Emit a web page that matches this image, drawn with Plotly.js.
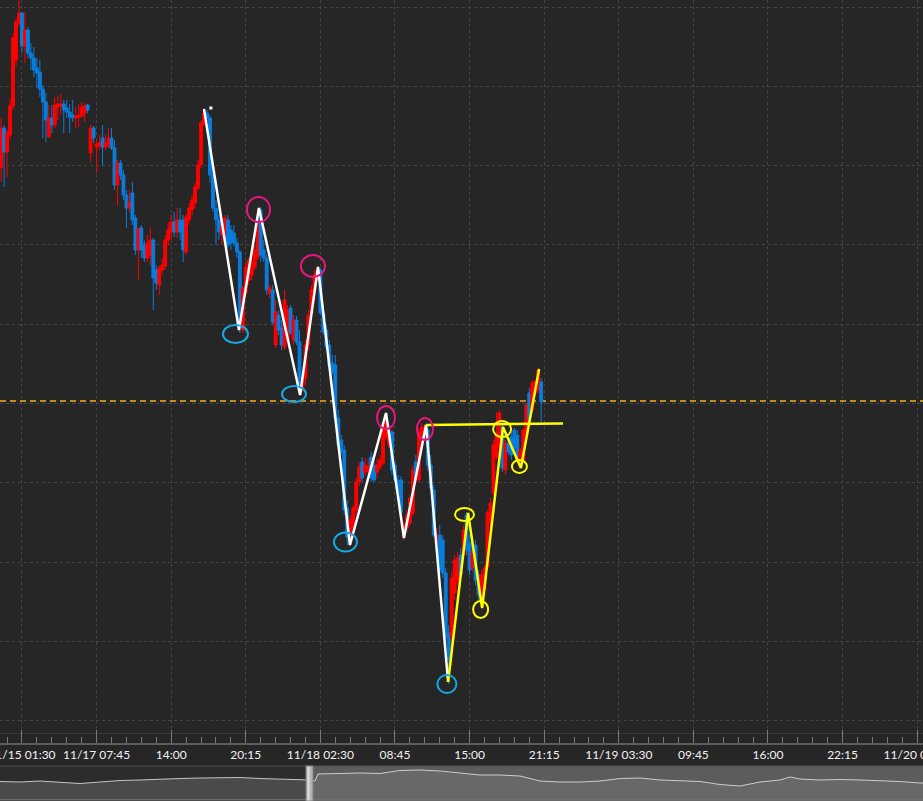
<!DOCTYPE html>
<html><head><meta charset="utf-8">
<script src="https://cdn.plot.ly/plotly-3.0.1.min.js"></script>
<style>html,body{margin:0;padding:0;background:#262626;overflow:hidden}#chart{width:923px;height:801px}</style>
</head><body><div id="chart"></div>
<script>
// ---- candle data (15-minute bars, arbitrary price units) ----
const openP = [163.2,167.2,164.8,166.5,169.4,174.0,177.7,178.7,175.4,177.0,
174.7,174.2,173.2,172.8,171.1,169.8,166.3,168.2,167.5,169.3,
169.4,169.6,169.2,168.8,168.5,168.2,168.3,168.4,168.7,169.5,
164.7,167.2,165.3,165.4,166.2,165.3,165.5,166.2,165.2,161.5,
163.7,162.5,160.5,159.2,160.7,158.2,155.0,157.2,155.5,154.2,
154.5,156.0,153.0,151.5,153.0,153.4,156.0,156.8,157.8,156.8,
158.0,158.0,154.8,158.0,159.0,159.7,161.2,163.5,167.6,168.7,
168.2,162.5,159.2,158.0,156.5,156.2,158.0,157.0,156.7,155.7,
154.8,147.0,150.7,152.0,152.5,153.3,154.3,159.0,155.0,154.2,
150.7,151.0,145.5,148.5,147.2,145.3,146.0,149.2,146.0,148.0,
145.8,141.2,142.2,145.5,148.7,150.8,152.2,153.0,148.7,147.0,
145.5,143.7,143.5,138.2,136.0,135.0,129.2,126.3,127.2,129.0,
131.8,133.8,132.8,132.8,134.3,133.5,132.8,133.3,133.7,136.3,
135.5,136.8,133.5,132.0,132.0,126.3,127.2,127.7,128.7,133.8,
132.0,136.3,137.0,137.0,133.5,131.0,125.8,126.5,126.0,122.7,
116.7,116.3,120.7,122.0,124.5,124.5,128.5,125.7,123.2,125.5,
122.5,120.7,121.0,123.3,127.7,130.7,134.3,135.3,137.3,133.0,
135.7,136.3,137.0,136.5,133.5,134.0,136.3,140.7,139.0,140.7,
141.0,141.8];
const highP = [168.2,167.5,167.0,170.1,176.7,178.2,180.0,178.8,178.8,177.3,
175.7,175.3,174.2,174.0,171.5,170.7,169.5,169.5,170.3,170.4,
170.6,170.0,170.0,169.6,170.0,169.3,169.6,169.8,169.7,169.6,
167.5,167.4,166.0,166.5,167.5,166.5,167.2,167.2,166.0,164.0,
164.0,163.0,161.0,161.0,161.8,158.5,157.2,157.5,156.0,156.5,
157.2,156.2,153.5,153.4,154.2,156.5,157.8,158.5,158.8,159.2,
159.2,158.5,158.6,159.7,160.5,161.7,164.0,168.0,169.2,169.0,
168.5,163.5,160.0,158.5,157.8,158.5,158.5,157.5,157.5,156.2,
155.0,151.5,153.8,154.2,154.5,155.5,159.2,159.3,156.0,154.5,
151.5,151.5,150.0,149.0,148.0,151.0,149.5,149.5,148.5,148.4,
147.0,142.4,146.0,149.0,151.5,153.0,153.4,153.2,149.5,147.5,
146.0,144.5,144.5,139.0,136.5,135.5,130.0,128.5,129.5,132.2,
133.8,134.3,134.2,134.2,134.8,134.0,134.2,134.5,137.5,138.7,
137.5,137.0,134.0,132.5,132.4,127.8,129.0,130.5,133.5,134.5,
137.2,137.7,137.6,137.4,134.5,131.5,127.2,127.5,126.5,123.2,
117.5,122.8,124.5,124.8,125.2,127.5,128.8,126.5,125.2,126.0,
123.0,123.0,123.5,129.0,130.2,136.0,138.8,139.0,137.5,136.0,
136.2,136.8,137.2,137.0,135.2,137.2,139.7,141.2,142.0,142.0,
143.2,142.2];
const lowP = [161.8,161.3,162.3,166.0,169.0,173.4,177.4,174.7,173.7,174.2,
173.0,172.3,171.2,170.3,166.2,165.8,166.2,166.7,167.2,168.0,
168.5,166.7,168.2,166.7,167.8,167.2,167.3,168.2,167.8,168.7,
163.8,165.7,162.7,165.0,163.4,165.0,165.2,165.0,161.0,159.5,
162.0,160.0,157.2,158.8,157.5,154.5,152.0,154.2,153.8,153.8,
153.5,149.0,151.0,150.5,152.5,153.0,155.5,156.0,156.3,156.2,
156.0,153.8,154.5,157.5,158.5,159.2,161.0,163.2,167.4,167.8,
161.7,158.8,155.5,156.0,155.5,155.8,155.2,155.0,155.4,154.2,
146.7,146.7,150.4,151.5,152.0,153.0,154.0,153.8,153.8,150.5,
150.2,147.5,145.2,146.5,145.0,145.0,145.8,146.5,145.5,145.5,
140.5,140.8,141.5,145.0,148.2,150.0,151.8,148.5,146.5,145.0,
143.0,142.5,138.0,135.2,134.5,128.5,125.5,125.4,126.8,128.5,
131.4,131.8,132.4,132.2,131.8,131.8,132.2,133.0,133.5,136.0,
135.2,132.5,131.8,130.8,128.5,126.0,126.8,127.4,128.4,131.8,
131.7,136.0,136.5,133.0,131.0,126.3,125.5,122.5,122.2,115.5,
111.6,113.5,120.0,121.5,122.0,124.0,124.5,122.5,122.8,121.5,
120.0,119.2,120.5,123.0,127.4,130.4,134.0,135.0,132.8,132.5,
134.5,134.0,134.8,133.8,133.2,133.8,136.0,137.8,138.7,140.4,
140.7,137.8];
const closeP = [167.2,164.8,166.7,169.4,176.2,177.8,178.7,175.4,177.0,174.7,
174.2,173.0,172.7,171.1,169.8,168.0,168.2,167.5,169.5,169.6,
169.6,169.0,168.8,168.3,168.2,168.4,168.5,169.3,169.4,169.0,
167.2,166.2,165.6,165.7,165.3,165.7,166.2,165.2,161.5,163.7,
162.5,160.5,159.2,159.8,158.0,155.0,157.2,155.0,154.2,155.7,
156.0,152.2,151.7,153.2,153.5,156.0,157.0,157.8,156.8,158.0,
156.8,155.0,158.3,159.2,160.0,161.3,163.5,167.7,168.7,168.2,
162.5,159.2,158.0,156.8,157.4,158.2,155.5,155.7,155.7,154.8,
147.5,151.2,153.3,154.0,153.8,155.0,158.2,154.5,154.2,151.0,
151.2,147.8,148.8,147.0,145.5,150.0,149.0,146.7,148.0,145.8,
141.7,142.2,145.5,148.5,151.0,152.5,153.0,148.7,146.8,145.3,
143.4,142.8,138.2,135.5,134.8,129.0,126.3,128.0,129.2,131.8,
133.3,132.2,133.5,133.4,132.2,132.0,133.5,134.0,137.2,138.2,
137.0,133.0,132.0,131.0,128.8,127.5,128.5,130.2,133.0,132.2,
136.8,137.3,137.3,133.5,131.2,126.5,126.5,123.0,122.7,116.3,
114.0,122.2,124.0,124.2,122.5,127.0,125.0,123.0,124.8,122.0,
120.5,122.5,123.2,128.7,129.7,135.5,136.7,138.7,133.2,135.7,
134.8,134.5,135.2,134.0,135.0,137.0,139.5,138.0,141.7,141.8,
143.0,139.8];

// ---- x axis tick labels (bar index where each label sits) ----
const tickIdx = [7,32,57,82,107,132,157,182,207,232,257,282,307];
const tickLabels = ['11/15 01:30','11/17 07:45','14:00','20:15','11/18 02:30','08:45','15:00','21:15','11/19 03:30','09:45','16:00','22:15','11/20 04:30'];

// ---- drawn annotations (bar index, price) ----
const whiteZigX = [68.0,79.7,86.4,100.2,106.2,116.9,129.0,135.0,142.4,149.8];
const whiteZigY = [169.1,147.0,159.2,140.5,153.3,125.5,138.7,126.2,137.5,111.8];
const yellowZigX = [149.8,156.5,161.2,168.2,174.2,180.3];
const yellowZigY = [111.8,128.7,119.2,137.3,133.2,143.1];
const yellowFlatX = [142.4,188.3];
const yellowFlatY = [137.5,137.65];
const markDotX = [70.3];
const markDotY = [169.2];
const levelPrice = 139.9;
const cyanCX = [78.55,98.16,115.4,149.4];
const cyanCY = [146.6,140.6,125.8,111.6];
const magentaCX = [86.26,104.5,129.0,142.06];
const magentaCY = [159.05,153.4,138.25,137.1];
const yellowCX = [155.3,160.7,167.9,173.7];
const yellowCY = [128.55,119.05,137.1,133.35];

// ---- navigator overview series ----
const navX = [0,20,40,60,80,100,120,140,160,180,200,220,240,260,280,300,310,315,318,340,360,380,400,420,440,460,480,500,520,540,560,580,600,620,640,660,680,700,720,740,760,780,790,800,820,840,860,880,900,920,923];
const navV = [19.5,19,20,19,17.5,19,20.5,21,22,22.5,23,23,23.5,22.5,22,22,21,20,27,27.5,28,27.5,30.5,31,30,28,26,26,25,20,19,19,20,22.5,23,21,20.5,19.5,16.5,15,19,21,24,22,21,21.5,21,20.5,19.5,18,18];
const navHandle = [306,313];

// ---- styles / sizes ----
const cyanR = [[12.5,9],[12,8],[11.5,9.5],[9.5,9]];
const magentaR = [[11.5,12.5],[12,11],[9,11.5],[8,11]];
const yellowR = [[9.5,6.5],[7.5,8.5],[9,8],[7.5,6.5]];
const BG = '#262626', GRID = '#444444';
const xr = [-0.369, 308.95];
const axisY = 58/801;

const barIdx = openP.map((_, i) => i);

const traces = [];
traces.push({
  type:'candlestick', x:barIdx, open:openP, high:highP, low:lowP, close:closeP,
  xaxis:'x', yaxis:'y', whiskerwidth:0,
  increasing:{line:{color:'#ff0000', width:1}, fillcolor:'#ff0000'},
  decreasing:{line:{color:'#0a7ddc', width:1}, fillcolor:'#0a7ddc'},
  hoverinfo:'skip'
});
traces.push({type:'scatter', mode:'lines', x:whiteZigX, y:whiteZigY, xaxis:'x', yaxis:'y',
  line:{color:'#ffffff', width:2.5}, hoverinfo:'skip'});
traces.push({type:'scatter', mode:'lines', x:yellowFlatX, y:yellowFlatY, xaxis:'x', yaxis:'y',
  line:{color:'#ffff00', width:2.5}, hoverinfo:'skip'});
traces.push({type:'scatter', mode:'lines', x:yellowZigX, y:yellowZigY, xaxis:'x', yaxis:'y',
  line:{color:'#ffff00', width:2.5}, hoverinfo:'skip'});
traces.push({type:'scatter', mode:'markers', x:markDotX, y:markDotY, xaxis:'x', yaxis:'y',
  marker:{color:'#ffffff', size:3, symbol:'square', line:{width:0}}, hoverinfo:'skip'});
// dummy traces so overlay tick axes render
traces.push({type:'scatter', mode:'markers', x:[null], y:[null], xaxis:'x3', yaxis:'y', hoverinfo:'skip'});
traces.push({type:'scatter', mode:'markers', x:[null], y:[null], xaxis:'x4', yaxis:'y', hoverinfo:'skip'});

// navigator
const leftIdx = navX.map((v,i)=>i).filter(i => navX[i] <= navHandle[1]);
const rightIdx = navX.map((v,i)=>i).filter(i => navX[i] >= navHandle[0]);
traces.push({type:'scatter', mode:'lines', x:leftIdx.map(i=>navX[i]), y:leftIdx.map(i=>navV[i]),
  xaxis:'x2', yaxis:'y2', fill:'tozeroy', fillcolor:'#4a4a4a', line:{color:'#c4c4c4', width:1}, hoverinfo:'skip'});
traces.push({type:'scatter', mode:'lines', x:rightIdx.map(i=>navX[i]), y:rightIdx.map(i=>navV[i]),
  xaxis:'x2', yaxis:'y2', fill:'tozeroy', fillcolor:'#686868', line:{color:'#cccccc', width:1}, hoverinfo:'skip'});
const gripX = [], gripY = [];
[23,20,17,14].forEach(v => { gripX.push(navHandle[0]+2.5, navHandle[0]+4.5); gripY.push(v, v); });
traces.push({type:'scatter', mode:'markers', x:gripX, y:gripY, xaxis:'x2', yaxis:'y2',
  marker:{color:'#4a4a4a', size:2, symbol:'square', line:{width:0}}, hoverinfo:'skip'});

const shapes = [];
shapes.push({type:'line', xref:'paper', x0:0, x1:1, yref:'y', y0:levelPrice, y1:levelPrice, layer:'below',
  line:{color:'#c08b1f', width:2, dash:'6px,4px'}});
function circles(cx, cy, r, color){
  cx.forEach((x,i)=>{
    shapes.push({type:'circle', xref:'x', yref:'y', xsizemode:'pixel', ysizemode:'pixel',
      xanchor:x, yanchor:cy[i], x0:-r[i][0], x1:r[i][0], y0:-r[i][1], y1:r[i][1],
      line:{color:color, width:2}, fillcolor:'rgba(0,0,0,0)'});
  });
}
circles(cyanCX, cyanCY, cyanR, '#16a8e4');
circles(magentaCX, magentaCY, magentaR, '#e8177f');
circles(yellowCX, yellowCY, yellowR, '#ffff00');
// navigator backgrounds, border and handle
shapes.push({type:'rect', xref:'x2', yref:'y2 domain', x0:0, x1:navHandle[0], y0:0, y1:1, layer:'below', fillcolor:'#2c2c2c', line:{width:0}});
shapes.push({type:'rect', xref:'x2', yref:'y2 domain', x0:navHandle[0], x1:923, y0:0, y1:1, layer:'below', fillcolor:'#5c5c5c', line:{width:0}});
shapes.push({type:'line', xref:'paper', x0:0, x1:1, yref:'y2 domain', y0:1, y1:1, line:{color:'#505050', width:1}});
shapes.push({type:'line', xref:'paper', x0:0, x1:1, yref:'y2 domain', y0:0.04, y1:0.04, line:{color:'#707070', width:1}});
shapes.push({type:'rect', xref:'x2', yref:'y2 domain', x0:navHandle[0], x1:navHandle[1], y0:0, y1:1, layer:'above', fillcolor:'#b4b4b4', line:{color:'#808080', width:1}});
shapes.push({type:'rect', xref:'x2', yref:'y2 domain', x0:navHandle[0]+1.5, x1:navHandle[0]+3.5, y0:0.02, y1:0.98, layer:'above', fillcolor:'#dedede', line:{width:0}});

const layout = {
  width:923, height:801, margin:{l:0,r:0,t:0,b:0},
  paper_bgcolor:BG, plot_bgcolor:BG, showlegend:false, hovermode:false, dragmode:false,
  boxgap:0.05, boxgroupgap:0,
  font:{family:'Lato, "Open Sans", sans-serif', color:'#e6e6e6'},
  xaxis:{domain:[0,1], anchor:'y', range:xr, tickmode:'array', tickvals:tickIdx, showticklabels:false, ticks:'',
    showgrid:true, gridcolor:GRID, griddash:'3px,3px', gridwidth:1, zeroline:false,
    showline:true, linecolor:'#3a3a3a', linewidth:1, fixedrange:true, rangeslider:{visible:false}},
  yaxis:{domain:[68/801,1], anchor:'x', range:[106.7,180], tickmode:'linear', tick0:179.3, dtick:7.93,
    showticklabels:false, ticks:'', showgrid:true, gridcolor:GRID, griddash:'3px,3px', gridwidth:1,
    zeroline:false, showline:false, fixedrange:true},
  xaxis3:{overlaying:'x', anchor:'free', position:axisY, side:'bottom', range:xr, tickmode:'array',
    tickvals:tickIdx, ticktext:tickLabels, ticks:'inside', ticklen:13, tickwidth:1, tickcolor:'#7a7a7a',
    showgrid:false, zeroline:false, showline:false, ticklabeloverflow:'allow', ticklabelstandoff:3,
    tickfont:{family:'Lato', size:12, color:'#f2f2f2'}, fixedrange:true},
  xaxis4:{overlaying:'x', anchor:'free', position:axisY, side:'bottom', range:xr, tickmode:'linear',
    tick0:2, dtick:5, ticks:'inside', ticklen:6, tickwidth:1, tickcolor:'#7a7a7a', showticklabels:false,
    showgrid:false, zeroline:false, showline:true, linecolor:'#5e5e5e', linewidth:1.5, fixedrange:true},
  xaxis2:{domain:[0,1], anchor:'y2', range:[0,923], visible:false, fixedrange:true},
  yaxis2:{domain:[0,35/801], anchor:'x2', range:[0,35], visible:false, fixedrange:true},
  shapes:shapes
};

Plotly.newPlot('chart', traces, layout, {staticPlot:true, displayModeBar:false});
</script>
</body></html>
